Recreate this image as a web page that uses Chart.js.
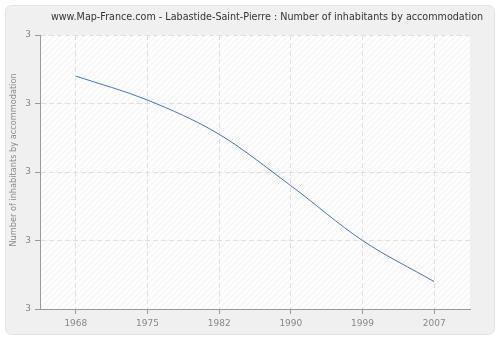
<!DOCTYPE html>
<html>
<head>
<meta charset="utf-8">
<script src="https://cdn.jsdelivr.net/npm/chart.js@4.4.0/dist/chart.umd.min.js"></script>
<style>
    body { margin: 0; background: #ffffff; }
    #wrap { width: 500px; height: 340px; }
</style>
</head>
<body>
<div id="wrap"><canvas id="myChart" width="500" height="340"></canvas></div>
<script>
//vars
const years = ["1968", "1975", "1982", "1990", "1999", "2007"];
const inhabitants = [3.28, 3.21, 3.11, 2.96, 2.80, 2.68];
const yMin = 2.6;
const yMax = 3.4;
const yStep = 0.2;

const chartTitle = "www.Map-France.com - Labastide-Saint-Pierre : Number of inhabitants by accommodation";
const yTitle = "Number of inhabitants by accommodation";

// hatched fill used behind the plot
function makeHatch(ctx) {
    var c = document.createElement('canvas');
    c.width = 6;
    c.height = 6;
    var p = c.getContext('2d');
    p.fillStyle = '#fdfdfd';
    p.fillRect(0, 0, 6, 6);
    p.strokeStyle = '#f0f0f0';
    p.lineWidth = 1;
    p.beginPath();
    p.moveTo(0, 6);
    p.lineTo(6, 0);
    p.moveTo(-3, 3);
    p.lineTo(3, -3);
    p.moveTo(3, 9);
    p.lineTo(9, 3);
    p.stroke();
    return ctx.createPattern(c, 'repeat');
}

// grey rounded frame, plot background, title and y axis caption
const backgroundPlugin = {
    id: 'background',
    beforeDraw(chart) {
        var ctx = chart.ctx;
        var a = chart.chartArea;
        ctx.save();
        ctx.fillStyle = '#ffffff';
        ctx.fillRect(0, 0, chart.width, chart.height);
        ctx.beginPath();
        ctx.roundRect(5.5, 5.5, chart.width - 11, chart.height - 11, 6);
        ctx.fillStyle = '#f0f0f0';
        ctx.fill();
        ctx.strokeStyle = '#e2e2e2';
        ctx.lineWidth = 1;
        ctx.stroke();
        ctx.fillStyle = makeHatch(ctx);
        ctx.fillRect(a.left, a.top, a.right - a.left, a.bottom - a.top);

        ctx.fillStyle = '#333333';
        ctx.font = '9.6px "DejaVu Sans"';
        ctx.textAlign = 'center';
        ctx.textBaseline = 'middle';
        ctx.fillText(chartTitle, 267, 17.5);

        // y caption, rotated
        ctx.translate(14, 160);
        ctx.rotate(-Math.PI / 2);
        ctx.fillStyle = '#888888';
        ctx.font = '8.2px "DejaVu Sans"';
        ctx.fillText(yTitle, 0, 0);
        ctx.restore();
    }
};

function loadChart() {
    var ctx = document.getElementById('myChart').getContext('2d');
    var chart = new Chart(ctx, {
        type: 'line',
        data: {
            labels: years,
            datasets: [{
                data: inhabitants,
                borderColor: '#4a76b2',
                borderWidth: 1,
                pointRadius: 0,
                fill: false,
                cubicInterpolationMode: 'monotone'
            }]
        },
        options: {
            responsive: false,
            animation: false,
            layout: {
                padding: { left: 4, right: 30, top: 35, bottom: 0 }
            },
            plugins: {
                legend: { display: false },
                tooltip: { enabled: false },
                title: { display: false }
            },
            scales: {
                x: {
                    offset: true,
                    border: { color: '#999999', width: 1, dash: [5, 3] },
                    grid: {
                        color: '#e0e0e0',
                        tickColor: '#999999',
                        tickLength: 5,
                        tickBorderDash: [],
                        offset: false
                    },
                    ticks: {
                        color: '#888888',
                        font: { family: 'DejaVu Sans', size: 9 },
                        padding: 4,
                        maxRotation: 0
                    },
                    afterFit: function (scale) { scale.height = 31; }
                },
                y: {
                    min: yMin,
                    max: yMax,
                    border: { color: '#999999', width: 1, dash: [5, 3] },
                    grid: {
                        color: '#e0e0e0',
                        tickColor: '#999999',
                        tickLength: 5,
                        tickBorderDash: []
                    },
                    ticks: {
                        stepSize: yStep,
                        color: '#888888',
                        font: { family: 'DejaVu Sans', size: 9 },
                        padding: 4,
                        callback: function (value) { return Math.round(value); }
                    },
                    afterFit: function (scale) { scale.width = 36; }
                }
            }
        },
        plugins: [backgroundPlugin]
    });
    return chart;
}

document.addEventListener('DOMContentLoaded', (event) => {
    loadChart();
});
</script>
</body>
</html>
